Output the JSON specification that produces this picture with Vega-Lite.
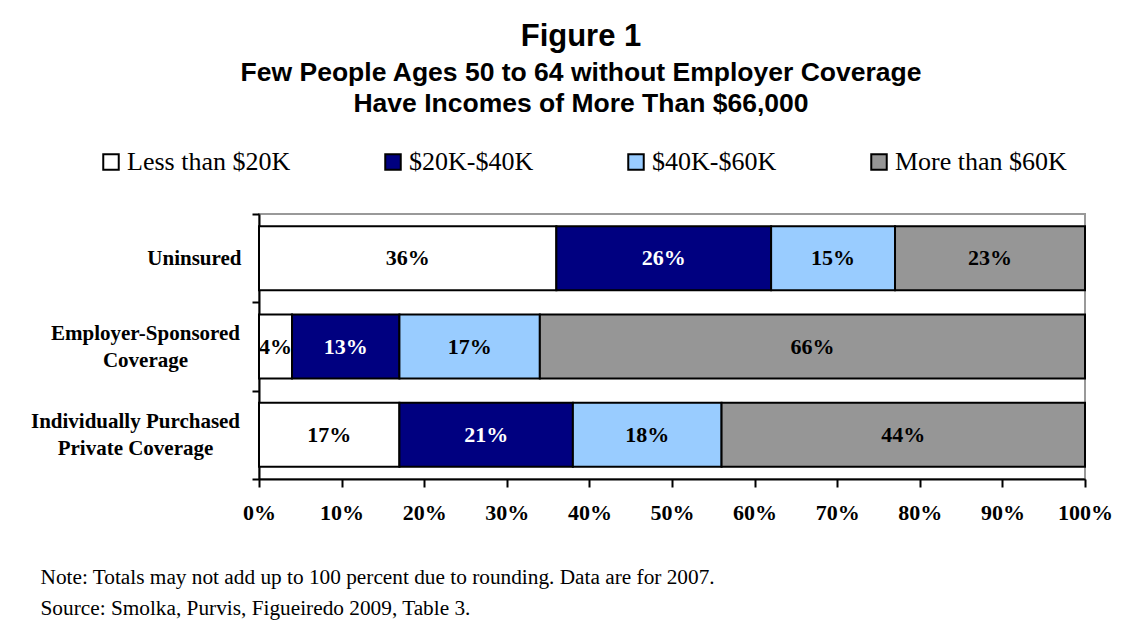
{
  "$schema": "https://vega.github.io/schema/vega-lite/v6.json",
  "width": 826,
  "height": 265,
  "autosize": {"type": "none"},
  "padding": {"left": 259, "top": 214, "right": 63, "bottom": 164},
  "background": "white",
  "title": {
    "text": "Figure 1",
    "subtitle": ["Few People Ages 50 to 64 without Employer Coverage", "Have Incomes of More Than $66,000"],
    "anchor": "middle",
    "frame": "group",
    "dx": -91,
    "offset": 31,
    "font": "Liberation Sans",
    "fontSize": 31,
    "fontWeight": "bold",
    "color": "black",
    "subtitleFont": "Liberation Sans",
    "subtitleFontSize": 26.5,
    "subtitleFontWeight": "bold",
    "subtitleColor": "black",
    "subtitleLineHeight": 31,
    "subtitlePadding": 7
  },
  "data": {
    "values": [
      {"coverage": "Uninsured", "income": "Less than $20K", "pct": 36},
      {"coverage": "Uninsured", "income": "$20K-$40K", "pct": 26},
      {"coverage": "Uninsured", "income": "$40K-$60K", "pct": 15},
      {"coverage": "Uninsured", "income": "More than $60K", "pct": 23},
      {"coverage": "Employer-Sponsored Coverage", "income": "Less than $20K", "pct": 4},
      {"coverage": "Employer-Sponsored Coverage", "income": "$20K-$40K", "pct": 13},
      {"coverage": "Employer-Sponsored Coverage", "income": "$40K-$60K", "pct": 17},
      {"coverage": "Employer-Sponsored Coverage", "income": "More than $60K", "pct": 66},
      {"coverage": "Individually Purchased Private Coverage", "income": "Less than $20K", "pct": 17},
      {"coverage": "Individually Purchased Private Coverage", "income": "$20K-$40K", "pct": 21},
      {"coverage": "Individually Purchased Private Coverage", "income": "$40K-$60K", "pct": 18},
      {"coverage": "Individually Purchased Private Coverage", "income": "More than $60K", "pct": 44}
    ]
  },
  "transform": [
    {"calculate": "datum.income == 'Less than $20K' ? 0 : datum.income == '$20K-$40K' ? 1 : datum.income == '$40K-$60K' ? 2 : 3", "as": "ord"},
    {"calculate": "datum.pct + '%'", "as": "label"}
  ],
  "encoding": {
    "y": {
      "field": "coverage",
      "type": "nominal",
      "sort": ["Uninsured", "Employer-Sponsored Coverage", "Individually Purchased Private Coverage"],
      "scale": {"paddingInner": 0, "paddingOuter": 0},
      "axis": {
        "title": null,
        "tickBand": "extent",
        "domainColor": "black",
        "domainWidth": 2,
        "tickColor": "black",
        "tickWidth": 2,
        "tickSize": 7,
        "labelFont": "Liberation Serif",
        "labelFontWeight": "bold",
        "labelFontSize": 21,
        "labelColor": "black",
        "labelLimit": 400,
        "labelAlign": {"condition": {"test": "datum.value == 'Uninsured'", "value": "right"}, "value": "center"},
        "labelPadding": {"condition": [
          {"test": "datum.value == 'Uninsured'", "value": 11},
          {"test": "datum.value == 'Individually Purchased Private Coverage'", "value": 117}
        ], "value": 107},
        "labelOffset": {"condition": {"test": "datum.value == 'Uninsured'", "value": 0}, "value": -13},
        "labelLineHeight": 27,
        "labelExpr": "datum.value == 'Employer-Sponsored Coverage' ? ['Employer-Sponsored', 'Coverage'] : datum.value == 'Individually Purchased Private Coverage' ? ['Individually Purchased', 'Private Coverage'] : datum.value"
      }
    },
    "x": {
      "field": "pct",
      "type": "quantitative",
      "stack": "zero",
      "scale": {"domain": [0, 100], "nice": false},
      "axis": {
        "title": ["Note: Totals may not add up to 100 percent due to rounding. Data are for 2007.", "Source: Smolka, Purvis, Figueiredo 2009, Table 3."],
        "titleFont": "Liberation Serif",
        "titleFontSize": 21.3,
        "titleFontWeight": "normal",
        "titleColor": "black",
        "titleAlign": "left",
        "titleBaseline": "alphabetic",
        "titleX": -219,
        "titleY": 104,
        "titleLineHeight": 31,
        "values": [0, 10, 20, 30, 40, 50, 60, 70, 80, 90, 100],
        "labelExpr": "datum.value + '%'",
        "labelFont": "Liberation Serif",
        "labelFontWeight": "bold",
        "labelFontSize": 22,
        "labelColor": "black",
        "labelPadding": 15,
        "labelFlush": false,
        "grid": false,
        "domainColor": "black",
        "domainWidth": 2,
        "tickColor": "black",
        "tickWidth": 2,
        "tickSize": 8
      }
    },
    "order": {"field": "ord", "type": "quantitative"}
  },
  "layer": [
    {
      "mark": {"type": "bar", "stroke": "black", "strokeWidth": 2, "height": {"band": 0.725}},
      "encoding": {
        "color": {
          "field": "income",
          "type": "nominal",
          "sort": ["Less than $20K", "$20K-$40K", "$40K-$60K", "More than $60K"],
          "scale": {
            "domain": ["Less than $20K", "$20K-$40K", "$40K-$60K", "More than $60K"],
            "range": ["#ffffff", "#000080", "#99ccff", "#969696"]
          },
          "legend": {
            "title": null,
            "orient": "none",
            "legendX": -161,
            "legendY": -65,
            "direction": "horizontal",
            "padding": 0,
            "symbolType": "square",
            "symbolSize": 240,
            "symbolStrokeColor": "black",
            "symbolStrokeWidth": 2,
            "symbolOpacity": 1,
            "labelFont": "Liberation Serif",
            "labelFontSize": 26,
            "labelColor": "black",
            "labelOffset": 3,
            "labelLimit": 400,
            "columnPadding": 89
          }
        }
      }
    },
    {
      "mark": {"type": "text", "font": "Liberation Serif", "fontWeight": "bold", "fontSize": 22},
      "encoding": {
        "x": {"field": "pct", "type": "quantitative", "stack": "zero", "bandPosition": 0.5},
        "detail": {"field": "income"},
        "text": {"field": "label", "type": "nominal"},
        "color": {"condition": {"test": "datum.income == '$20K-$40K'", "value": "white"}, "value": "black"}
      }
    }
  ],
  "config": {
    "view": {"stroke": "#999999", "strokeWidth": 2}
  }
}
